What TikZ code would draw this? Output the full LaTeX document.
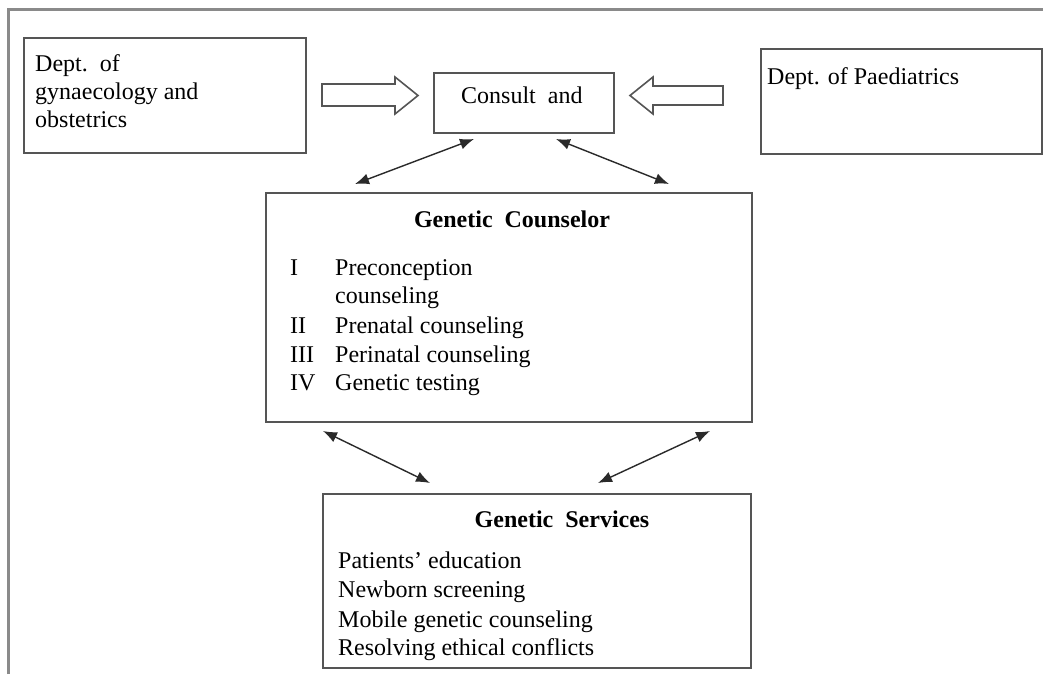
\documentclass[tikz,border=0pt]{standalone}
\usepackage{fontspec}
\setmainfont{Liberation Serif}
\usetikzlibrary{arrows.meta}
\definecolor{boxgray}{HTML}{555555}
\definecolor{framegray}{HTML}{8A8A8A}
\definecolor{arrgray}{HTML}{2A2A2A}
\begin{document}
\begin{tikzpicture}[x=1pt,y=-1pt,
  box/.style={draw=boxgray,line width=1.9pt,rectangle,inner sep=0pt,anchor=north west},
  txt/.style={anchor=base west,inner sep=0pt,font=\fontsize{24}{28.7}\selectfont,text=black},
  ttl/.style={anchor=base,inner sep=0pt,font=\fontsize{24}{28.7}\selectfont\bfseries,text=black},
  link/.style={draw=arrgray,line width=1.4pt,{Latex[length=14pt,width=11pt]}-{Latex[length=14pt,width=11pt]}},
  hollow/.style={draw=boxgray,line width=1.6pt,fill=white,line join=miter}]
\useasboundingbox (0,0) rectangle (1043,674);
\fill[white] (0,0) rectangle (1043,674);
% outer frame (top and left only)
\draw[framegray,line width=3pt] (8,674) -- (8,10) -- (1043,10);
% boxes
\node[box,minimum width=282pt,minimum height=115pt] (gyn) at (23,37) {};
\node[box,minimum width=180pt,minimum height=60pt] (consult) at (433,72) {};
\node[box,minimum width=281pt,minimum height=105pt] (paed) at (760,48) {};
\node[box,minimum width=486pt,minimum height=229pt] (couns) at (265,192) {};
\node[box,minimum width=428pt,minimum height=174pt] (serv) at (322,493) {};
% texts
\node[txt] (gyn1) at (35,72) {Dept.\ \ of};
\node[txt] (gyn2) at (35,100) {gynaecology and};
\node[txt] (gyn3) at (35,128) {obstetrics};
\node[txt] (paedt) at (767,85) {Dept. of Paediatrics};
\node[txt] (constxt) at (461,104) {Consult\ \ and};
\node[ttl] (counst) at (512,227) {Genetic\ \ Counselor};
\node[txt] (r1) at (290,275) {I};
\node[txt] (t1) at (335,275) {Preconception};
\node[txt] (t1b) at (335,303) {counseling};
\node[txt] (r2) at (290,333) {II};
\node[txt] (t2) at (335,333) {Prenatal counseling};
\node[txt] (r3) at (290,362) {III};
\node[txt] (t3) at (335,362) {Perinatal counseling};
\node[txt] (r4) at (290,390) {IV};
\node[txt] (t4) at (335,390) {Genetic testing};
\node[ttl] (servt) at (562,527) {Genetic\ \ Services};
\node[txt] (s1) at (338,568) {Patients’ education};
\node[txt] (s2) at (338,597) {Newborn screening};
\node[txt] (s3) at (338,627) {Mobile genetic counseling};
\node[txt] (s4) at (338,655) {Resolving ethical conflicts};
% hollow arrows
\draw[hollow] (322,84) -- (395,84) -- (395,77) -- (418,95.5) -- (395,114) -- (395,106) -- (322,106) -- cycle;
\draw[hollow] (723,86) -- (653,86) -- (653,77) -- (630,95.5) -- (653,114) -- (653,105) -- (723,105) -- cycle;
% link endpoints
\coordinate (c1a) at (474,139); \coordinate (c1b) at (355,184);
\coordinate (c2a) at (556,139); \coordinate (c2b) at (669,184);
\coordinate (c3a) at (323,431); \coordinate (c3b) at (430,483);
\coordinate (c4a) at (710,431); \coordinate (c4b) at (598,483);
\draw[link] (c1a) -- (c1b);
\draw[link] (c2a) -- (c2b);
\draw[link] (c3a) -- (c3b);
\draw[link] (c4a) -- (c4b);
\end{tikzpicture}
\end{document}
